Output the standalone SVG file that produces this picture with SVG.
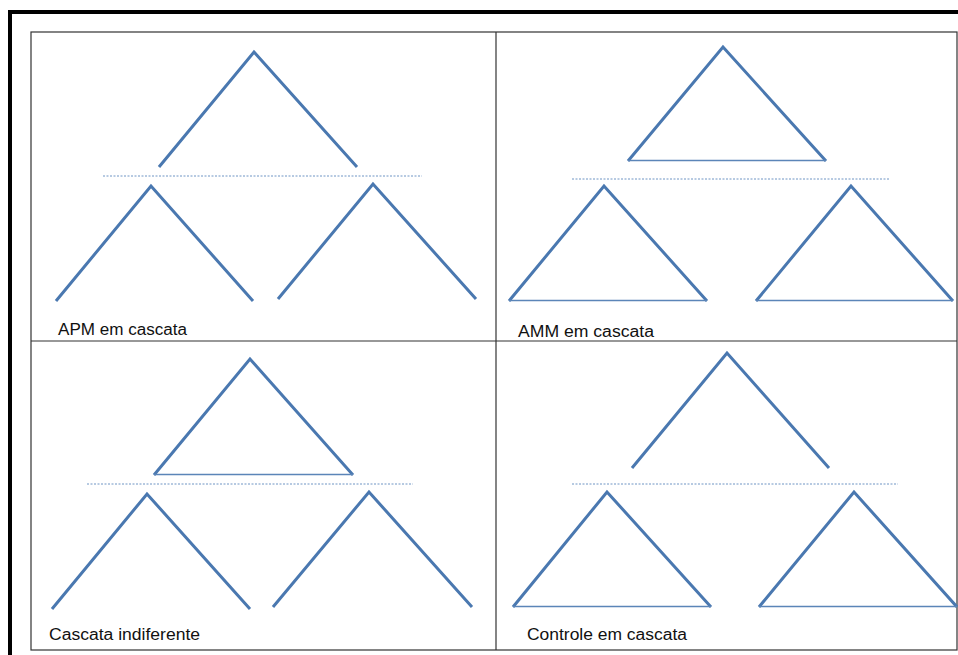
<svg xmlns="http://www.w3.org/2000/svg" width="958" height="655" viewBox="0 0 958 655">
<style>
.frame{fill:none;stroke:#000;stroke-width:4}
.grid{fill:none;stroke:#333;stroke-width:1.2}
.edge{fill:none;stroke:#4A78B0;stroke-width:3;stroke-linecap:butt;stroke-linejoin:miter}
.base{fill:none;stroke:#5B85B8;stroke-width:1.6}
.sep{fill:none;stroke:#6F95C4;stroke-width:1;stroke-dasharray:2 1.5}
.lbl{font-family:"Liberation Sans",Arial,sans-serif;font-size:16px;fill:#111}
</style>
<rect width="958" height="655" fill="#fff"/>
<path class="frame" d="M10,660 V12 H965"/>
<g id="table">
<rect class="grid" x="31" y="32" width="926" height="618"/>
<line class="grid" x1="496" y1="32" x2="496" y2="650"/>
<line class="grid" x1="31" y1="341" x2="957" y2="341"/>
</g>
<g id="connectors">
<line class="sep" x1="103" y1="176" x2="422" y2="176"/>
<line class="sep" x1="572" y1="179" x2="890" y2="179"/>
<line class="sep" x1="87" y1="484" x2="413" y2="484"/>
<line class="sep" x1="572" y1="484" x2="898" y2="484"/>
</g>
<g id="apm">
<polyline class="edge" points="159,167 254,52 357,167"/>
<polyline class="edge" points="56,301 151,186 253,301"/>
<polyline class="edge" points="278,299 373,184 476,299"/>
<text class="lbl" x="58" y="335" textLength="129" lengthAdjust="spacingAndGlyphs">APM em cascata</text>
</g>
<g id="amm">
<polyline class="edge" points="628,161 723,47 826,161"/>
<line class="base" x1="628" y1="160.5" x2="826" y2="160.5"/>
<polyline class="edge" points="509,301 604,186 707,301"/>
<line class="base" x1="509" y1="300.5" x2="707" y2="300.5"/>
<polyline class="edge" points="756,301 851,186 953,301"/>
<line class="base" x1="756" y1="300.5" x2="953" y2="300.5"/>
<text class="lbl" x="518" y="337" textLength="136" lengthAdjust="spacingAndGlyphs">AMM em cascata</text>
</g>
<g id="indiferente">
<polyline class="edge" points="154,475 250,359 353,475"/>
<line class="base" x1="154" y1="474.5" x2="353" y2="474.5"/>
<polyline class="edge" points="52,609 147,494 250,609"/>
<polyline class="edge" points="273,607 369,492 472,607"/>
<text class="lbl" x="49" y="640" textLength="151" lengthAdjust="spacingAndGlyphs">Cascata indiferente</text>
</g>
<g id="controle">
<polyline class="edge" points="632,468 727,353 829,468"/>
<polyline class="edge" points="513,607 607,492 711,607"/>
<line class="base" x1="513" y1="606.5" x2="711" y2="606.5"/>
<polyline class="edge" points="759,607 854,492 957,607"/>
<line class="base" x1="759" y1="606.5" x2="957" y2="606.5"/>
<text class="lbl" x="527" y="640" textLength="160" lengthAdjust="spacingAndGlyphs">Controle em cascata</text>
</g>
</svg>
